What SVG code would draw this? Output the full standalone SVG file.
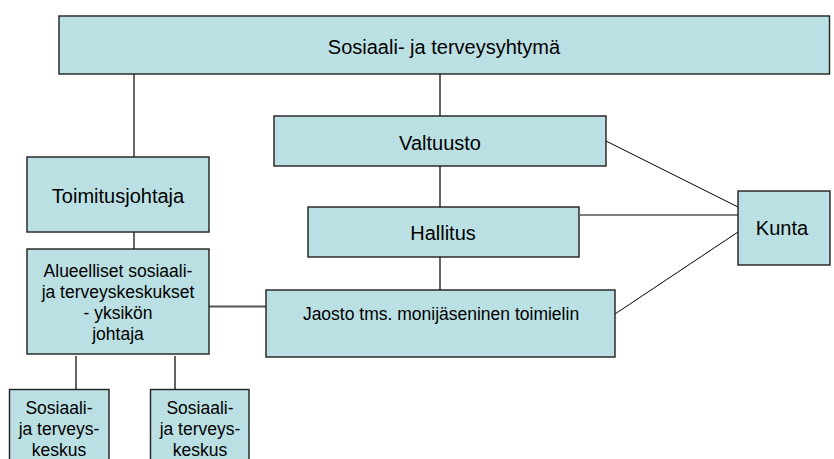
<svg xmlns="http://www.w3.org/2000/svg" width="834" height="459" viewBox="0 0 834 459">
  <style>
    .box { fill: #BBE0E3; stroke: #1f1f1f; stroke-width: 1.4; }
    .lbl { font-family: "Liberation Sans", Arial, sans-serif; fill: #000; text-anchor: middle; }
    .big { font-size: 20px; }
    .small { font-size: 17.5px; }
    .tree { stroke: #555; stroke-width: 1.8; fill: none; }
    .link { stroke: #000; stroke-width: 1; fill: none; }
  </style>
  <rect width="834" height="459" fill="#fff"/>

  <!-- connectors -->
  <g id="connectors">
    <line class="tree" x1="134" y1="74" x2="134" y2="157"/>
    <line class="tree" x1="440" y1="74" x2="440" y2="116"/>
    <line class="tree" x1="440" y1="166" x2="440" y2="207"/>
    <line class="tree" x1="440" y1="257" x2="440" y2="290"/>
    <line class="tree" x1="134" y1="232" x2="134" y2="249"/>
    <line class="tree" x1="209" y1="306.5" x2="266" y2="306.5"/>
    <line class="tree" x1="76" y1="356" x2="76" y2="389"/>
    <line class="tree" x1="175" y1="356" x2="175" y2="389"/>
    <line class="link" x1="606" y1="141" x2="738" y2="207"/>
    <line class="link" x1="580" y1="215" x2="738" y2="215"/>
    <line class="link" x1="615" y1="314" x2="738" y2="232"/>
  </g>

  <g id="yhtyma">
    <rect class="box" x="59" y="16" width="770.5" height="58"/>
    <text class="lbl big" x="444" y="54">Sosiaali- ja terveysyhtymä</text>
  </g>

  <g id="valtuusto">
    <rect class="box" x="274" y="116" width="332" height="50"/>
    <text class="lbl big" x="440" y="150">Valtuusto</text>
  </g>

  <g id="toimitusjohtaja">
    <rect class="box" x="27" y="157" width="182" height="75"/>
    <text class="lbl big" x="118" y="202.5">Toimitusjohtaja</text>
  </g>

  <g id="hallitus">
    <rect class="box" x="308" y="207" width="271" height="50"/>
    <text class="lbl big" x="443" y="240">Hallitus</text>
  </g>

  <g id="kunta">
    <rect class="box" x="738" y="191" width="92" height="74"/>
    <text class="lbl big" x="782" y="235">Kunta</text>
  </g>

  <g id="alueelliset">
    <rect class="box" x="27" y="249" width="182" height="105"/>
    <text class="lbl small" x="118" y="277">Alueelliset sosiaali-</text>
    <text class="lbl small" x="118" y="298">ja terveyskeskukset</text>
    <text class="lbl small" x="118" y="319">- yksikön</text>
    <text class="lbl small" x="118" y="340">johtaja</text>
  </g>

  <g id="jaosto">
    <rect class="box" x="266" y="290" width="349" height="67"/>
    <text class="lbl small" x="441" y="320">Jaosto tms. monijäseninen toimielin</text>
  </g>

  <g id="keskus1">
    <rect class="box" x="9.5" y="389.5" width="99.5" height="80"/>
    <text class="lbl small" x="59" y="414">Sosiaali-</text>
    <text class="lbl small" x="59" y="435">ja terveys-</text>
    <text class="lbl small" x="59" y="456">keskus</text>
  </g>

  <g id="keskus2">
    <rect class="box" x="150.5" y="389.5" width="98.5" height="80"/>
    <text class="lbl small" x="200" y="414">Sosiaali-</text>
    <text class="lbl small" x="200" y="435">ja terveys-</text>
    <text class="lbl small" x="200" y="456">keskus</text>
  </g>
</svg>
